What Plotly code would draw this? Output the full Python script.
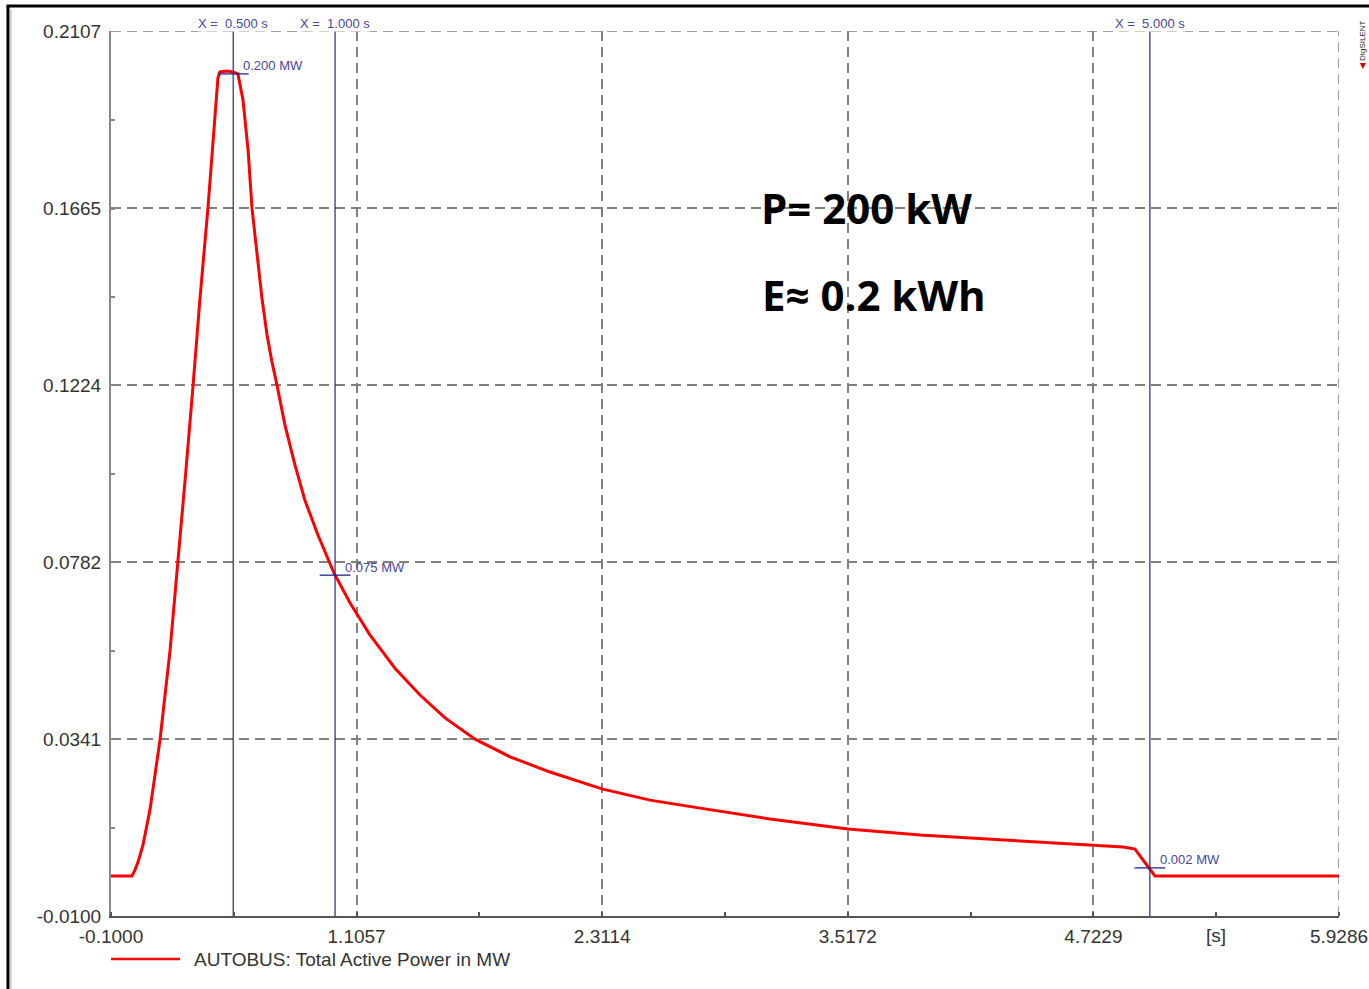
import plotly.graph_objects as go

# ---- data ----
time_s = [-0.100, 0.003, 0.018, 0.033, 0.057, 0.091, 0.116, 0.141, 0.190, 0.229,
          0.268, 0.303, 0.337, 0.376, 0.401, 0.415, 0.425, 0.435, 0.470, 0.499,
          0.523, 0.548, 0.573, 0.592, 0.617, 0.641, 0.666, 0.690, 0.715, 0.754,
          0.803, 0.852, 0.916, 0.995, 1.073, 1.171, 1.294, 1.417, 1.540, 1.687,
          1.859, 2.055, 2.310, 2.546, 2.792, 3.135, 3.518, 3.872, 4.264, 4.721,
          4.869, 4.927, 4.996, 5.025, 5.9286]
power_mw = [0.0000, 0.0000, 0.0015, 0.0035, 0.0077, 0.0164, 0.0252, 0.0341, 0.0563, 0.0783,
            0.1012, 0.1224, 0.1441, 0.1666, 0.1835, 0.1930, 0.1990, 0.2005, 0.2007, 0.2005,
            0.2000, 0.1935, 0.1810, 0.1666, 0.1548, 0.1441, 0.1349, 0.1282, 0.1224, 0.1124,
            0.1025, 0.0937, 0.0850, 0.0755, 0.0681, 0.0601, 0.0518, 0.0451, 0.0394, 0.0341,
            0.0297, 0.0259, 0.0217, 0.0189, 0.0169, 0.0142, 0.0117, 0.0102, 0.0090, 0.0075,
            0.0072, 0.0067, 0.0020, 0.0000, 0.0000]

x_ticks = [-0.1000, 1.1057, 2.3114, 3.5172, 4.7229, 5.9286]
y_ticks = [-0.0100, 0.0341, 0.0782, 0.1224, 0.1665, 0.2107]

cursor_t = [0.500, 1.000, 5.000]
cursor_p = [0.200, 0.075, 0.002]

series_name = "AUTOBUS: Total Active Power in MW"
unit_label = "[s]"
unit_label_x = 5.3257
note_lines = ["P= 200 kW", "E\u2248 0.2 kWh"]

NAVY = "#25258a"
LABEL_BLUE = "#4646a0"
GRID = "#808080"
TXT = "#333333"
FONT = "Liberation Sans, Arial"

fig = go.Figure()

fig.add_trace(go.Scatter(x=time_s, y=power_mw, mode="lines",
                         line=dict(color="#ff0000", width=3),
                         name=series_name, showlegend=False, hoverinfo="skip"))

# cursor vertical lines
vx, vy = [], []
for tc in cursor_t:
    vx += [tc, tc, None]
    vy += [y_ticks[0], y_ticks[-1], None]
fig.add_trace(go.Scatter(x=vx, y=vy, mode="lines", line=dict(color=NAVY, width=1.2),
                         showlegend=False, hoverinfo="skip", cliponaxis=False))
# cursor crosses
fig.add_trace(go.Scatter(x=cursor_t, y=cursor_p, mode="markers",
                         marker=dict(symbol="line-ew", size=22,
                                     line=dict(color=NAVY, width=1.3)),
                         showlegend=False, hoverinfo="skip"))

annotations = []
for tc, pc in zip(cursor_t, cursor_p):
    annotations.append(dict(x=tc, y=1, xref="x", yref="paper", text=f"X =  {tc:.3f} s",
                            showarrow=False, yanchor="middle", xanchor="center", yshift=8,
                            font=dict(family=FONT, size=13, color=LABEL_BLUE),
                            bgcolor="white", borderpad=0))
    annotations.append(dict(x=tc, y=pc, xref="x", yref="y", text=f"{pc:.3f} MW",
                            showarrow=False, xanchor="left", yanchor="middle",
                            xshift=8, yshift=8,
                            font=dict(family=FONT, size=13, color=LABEL_BLUE)))

annotations.append(dict(x=unit_label_x, y=0, xref="x", yref="paper", text=unit_label,
                        showarrow=False, yanchor="middle", yshift=-19,
                        font=dict(family=FONT, size=19, color=TXT)))

annotations.append(dict(x=0.5275, y=0.801, xref="paper", yref="paper", text=f"<b>{note_lines[0]}</b>",
                        showarrow=False, xanchor="left", yanchor="middle",
                        font=dict(family="Open Sans", size=42, color="black")))
annotations.append(dict(x=0.5285, y=0.7017, xref="paper", yref="paper", text=f"<b>{note_lines[1]}</b>",
                        showarrow=False, xanchor="left", yanchor="middle",
                        font=dict(family="Open Sans", size=42, color="black")))

# legend (manual)
annotations.append(dict(x=0.066, y=-0.0486, xref="paper", yref="paper", text=series_name,
                        showarrow=False, xanchor="left", yanchor="middle",
                        font=dict(family=FONT, size=19, color=TXT)))

# logo
annotations.append(dict(x=1.0187, y=0.985, xref="paper", yref="paper",
                        text="<span style='color:#cc0000'>\u25c0</span> DIgSILENT",
                        textangle=-90, showarrow=False, xanchor="center", yanchor="middle",
                        font=dict(family=FONT, size=8, color="#222")))

shapes = [
    # edge grid lines (top and right)
    dict(type="line", xref="x domain", yref="y", x0=0, x1=1, y0=y_ticks[-1], y1=y_ticks[-1],
         line=dict(color=GRID, width=1.5, dash="10px,6px"), layer="below"),
    dict(type="line", xref="x", yref="y domain", x0=x_ticks[-1], x1=x_ticks[-1], y0=0, y1=1,
         line=dict(color=GRID, width=1.5, dash="10px,6px"), layer="below"),
    # legend sample line
    dict(type="line", xref="paper", yref="paper", x0=0, x1=0.0562, y0=-0.0486, y1=-0.0486,
         line=dict(color="#ff0000", width=2.5)),
    # outer frame
    dict(type="line", xref="paper", yref="paper", x0=-0.0839, x1=-0.0839, y0=1.0282, y1=-0.09,
         line=dict(color="black", width=3)),
    dict(type="line", xref="paper", yref="paper", x0=-0.0851, x1=1.03, y0=1.0282, y1=1.0282,
         line=dict(color="black", width=3)),
    dict(type="line", xref="paper", yref="paper", x0=-0.0815, x1=-0.0815, y0=1.025, y1=-0.09,
         line=dict(color="#aaaaaa", width=1)),
]

fig.update_layout(
    width=1369, height=989,
    margin=dict(l=111, r=30, t=31, b=73, autoexpand=False),
    paper_bgcolor="white", plot_bgcolor="white",
    showlegend=False,
    annotations=annotations, shapes=shapes,
    font=dict(family=FONT, size=19, color=TXT),
)

fig.update_xaxes(
    range=[x_ticks[0], x_ticks[-1]], tickmode="array", tickvals=x_ticks,
    ticktext=[f"{v:.4f}" for v in x_ticks], automargin=False,
    showgrid=True, gridcolor=GRID, griddash="10px,6px", gridwidth=1.5,
    showline=True, linecolor="#555555", linewidth=2, zeroline=False,
    ticks="", ticklabelstandoff=2,
    minor=dict(tick0=x_ticks[0], dtick=(x_ticks[1] - x_ticks[0]) / 2, ticks="inside",
               ticklen=4, tickcolor="#555555", tickwidth=1.5, showgrid=False),
    tickfont=dict(family=FONT, size=19, color=TXT),
)
fig.update_yaxes(
    range=[y_ticks[0], y_ticks[-1]], tickmode="array", tickvals=y_ticks,
    ticktext=[f"{v:.4f}" for v in y_ticks], automargin=False,
    showgrid=True, gridcolor=GRID, griddash="10px,6px", gridwidth=1.5,
    showline=True, linecolor="#888888", linewidth=2, zeroline=False,
    ticks="inside", ticklen=6, tickcolor="#888888", tickwidth=1.5,
    ticklabelstandoff=4,
    minor=dict(tick0=y_ticks[0], dtick=(y_ticks[1] - y_ticks[0]) / 2, ticks="inside",
               ticklen=4, tickcolor="#888888", tickwidth=1.5, showgrid=False),
    tickfont=dict(family=FONT, size=19, color=TXT),
)

fig.write_html("out.html", config={"displayModeBar": False},
               post_script="document.body.style.margin='0';document.body.style.overflow='hidden';")
